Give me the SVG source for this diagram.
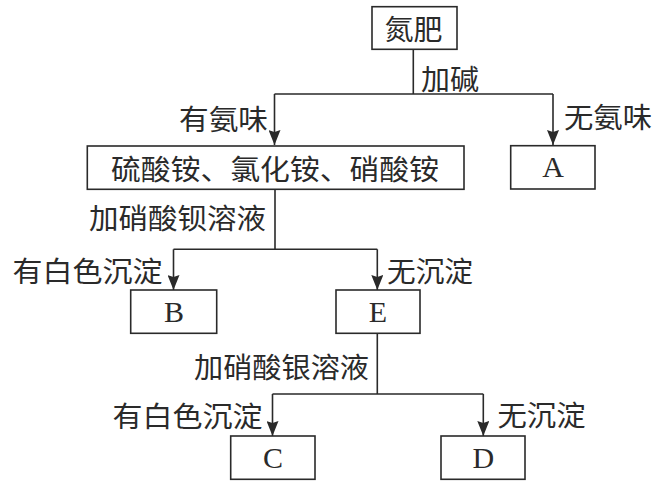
<svg xmlns="http://www.w3.org/2000/svg" width="665" height="484" viewBox="0 0 665 484">
<style>
  .box { fill: #fff; stroke: #2a2a2a; stroke-width: 1.6; }
  .cn { font-family: "Noto Sans CJK SC", "Noto Sans", sans-serif; font-size: 28px; fill: #2a2a2a; dominant-baseline: central; }
  .lt { font-family: "Liberation Serif", "DejaVu Serif", serif; font-size: 30px; fill: #2a2a2a; text-anchor: middle; dominant-baseline: central; }
  .ln { fill: none; stroke: #2a2a2a; stroke-width: 1.6; }
</style>
<defs>
  <marker id="arr" markerUnits="userSpaceOnUse" markerWidth="15" markerHeight="12" refX="15" refY="6" orient="auto">
    <path d="M0,0 L15,6 L0,12 L2,6 z" fill="#2a2a2a"/>
  </marker>
</defs>
<rect width="665" height="484" fill="#fff"/>

<g id="connectors">
  <path class="ln" d="M413.3,49.3 V94 M274.5,94 H553"/>
  <path class="ln" d="M274.5,94 V145" marker-end="url(#arr)"/>
  <path class="ln" d="M553,94 V145" marker-end="url(#arr)"/>
  <path class="ln" d="M275,189.3 V249.3 M173.5,249.3 H377.3"/>
  <path class="ln" d="M173.5,249.3 V290" marker-end="url(#arr)"/>
  <path class="ln" d="M377.3,249.3 V290" marker-end="url(#arr)"/>
  <path class="ln" d="M377.3,333.3 V394 M272.5,394 H483.3"/>
  <path class="ln" d="M272.5,394 V436" marker-end="url(#arr)"/>
  <path class="ln" d="M483.3,394 V436" marker-end="url(#arr)"/>
  <text class="cn" x="421" y="78" textLength="58" lengthAdjust="spacingAndGlyphs">加碱</text>
  <text class="cn" x="179" y="118" textLength="89" lengthAdjust="spacingAndGlyphs">有氨味</text>
  <text class="cn" x="564" y="116" textLength="88" lengthAdjust="spacingAndGlyphs">无氨味</text>
  <text class="cn" x="89" y="216.5" textLength="177" lengthAdjust="spacingAndGlyphs">加硝酸钡溶液</text>
  <text class="cn" x="12.5" y="270" textLength="150" lengthAdjust="spacingAndGlyphs">有白色沉淀</text>
  <text class="cn" x="387" y="270" textLength="86" lengthAdjust="spacingAndGlyphs">无沉淀</text>
  <text class="cn" x="194" y="365.5" textLength="175" lengthAdjust="spacingAndGlyphs">加硝酸银溶液</text>
  <text class="cn" x="112.5" y="415" textLength="150" lengthAdjust="spacingAndGlyphs">有白色沉淀</text>
  <text class="cn" x="497.5" y="414" textLength="88" lengthAdjust="spacingAndGlyphs">无沉淀</text>
</g>

<g id="node-nitrogen">
  <rect class="box" x="372" y="6.7" width="85" height="42.6"/>
  <text class="cn" x="384.5" y="28" textLength="58" lengthAdjust="spacingAndGlyphs">氮肥</text>
</g>
<g id="node-ammonium">
  <rect class="box" x="87.3" y="146" width="376.7" height="43.3"/>
  <text class="cn" x="111" y="168" textLength="328" lengthAdjust="spacingAndGlyphs">硫酸铵、氯化铵、硝酸铵</text>
</g>
<g id="node-A">
  <rect class="box" x="510.7" y="145.7" width="84.3" height="43.3"/>
  <text class="lt" x="553" y="166.5">A</text>
</g>
<g id="node-B">
  <rect class="box" x="130.7" y="290" width="86" height="43.3"/>
  <text class="lt" x="174" y="311">B</text>
</g>
<g id="node-E">
  <rect class="box" x="336" y="290" width="84" height="43.3"/>
  <text class="lt" x="378" y="311">E</text>
</g>
<g id="node-C">
  <rect class="box" x="230.7" y="436" width="84.3" height="43.3"/>
  <text class="lt" x="273" y="457.5">C</text>
</g>
<g id="node-D">
  <rect class="box" x="441" y="436" width="84" height="43.3"/>
  <text class="lt" x="483.3" y="457.5">D</text>
</g>
</svg>
